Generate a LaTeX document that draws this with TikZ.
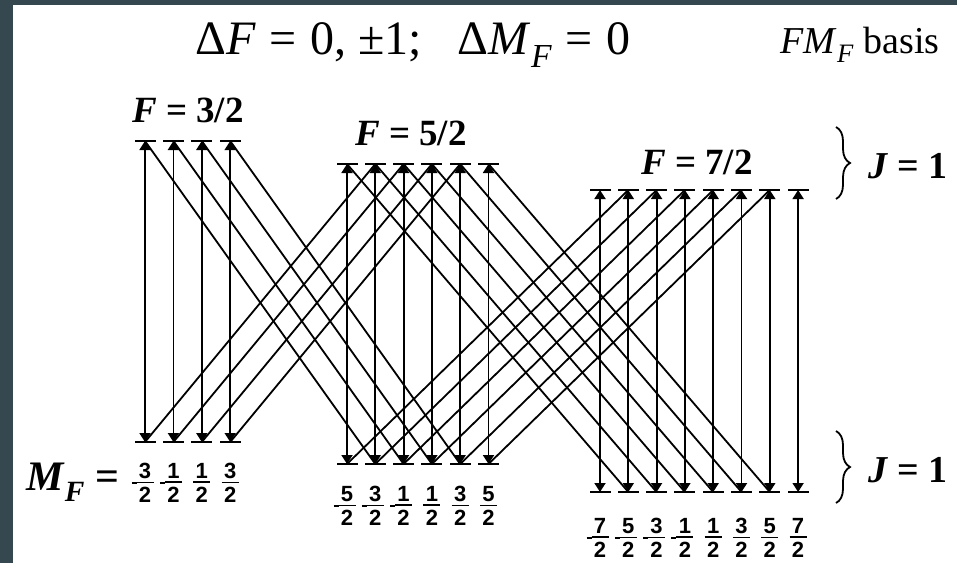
\documentclass[tikz,border=0pt]{standalone}
\usepackage{amsmath}
\usepackage{xcolor}
\usepackage{fontspec}
\setmainfont{Liberation Serif}
\setsansfont{Liberation Sans}
\usepackage{tikz}
\usetikzlibrary{arrows.meta, decorations.pathreplacing}

\definecolor{slate}{RGB}{53,71,79}

% M_F values under a sublevel
\newcommand{\mfr}[1]{\vbox{\sffamily\bfseries\hbox to 17pt{\hss#1\hss}\kern3pt\hrule height1.5pt\kern4.5pt\hbox to 17pt{\hss2\hss}}}
\newcommand{\pfr}[1]{$\vcenter{\mfr{#1}}$}
\newcommand{\nfr}[1]{\llap{$\vcenter{\hbox{\rule{5pt}{1.5pt}}}$}$\vcenter{\mfr{#1}}$}

\begin{document}
\begin{tikzpicture}[x=1pt, y=-1pt]
        % Define styles
        \tikzstyle{lev} = [rectangle, fill=black, minimum width=21pt, minimum height=2.5pt, inner sep=0pt]
        \tikzstyle{line} = [line width=1.8pt]
        \tikzstyle{arrow} = [line width=1.8pt, <->, >={Triangle[width=11pt,length=9pt]}]
        \tikzstyle{flabel} = [font=\fontsize{37}{40}\selectfont\bfseries]
        \tikzstyle{mlabel} = [font=\fontsize{22}{22}\selectfont, inner sep=0pt]
        \tikzstyle{brace} = [line width=1.8pt, decorate, decoration={brace, amplitude=14pt, aspect=0.5}]

        % Frame
        \useasboundingbox (0,0) rectangle (957,563);
        \fill[slate] (0,0) rectangle (957,563);
        \fill[white] (13,5) rectangle (957,563);

        % Sublevels: a = F 3/2, b = F 5/2, c = F 7/2 (u upper, l lower)
        \foreach \k in {0,...,3} {
            \node[lev] (ua\k) at (145+28.4*\k, 141) {};
            \node[lev] (la\k) at (145+28.4*\k, 442) {};
        }
        \foreach \k in {0,...,5} {
            \node[lev] (ub\k) at (347+28.3*\k, 164) {};
            \node[lev] (lb\k) at (347+28.3*\k, 464) {};
        }
        \foreach \k in {0,...,7} {
            \node[lev] (uc\k) at (600+28.3*\k, 190) {};
            \node[lev] (lc\k) at (600+28.3*\k, 492) {};
        }

        % Delta F = 0
        \foreach \k in {0,...,3} \draw [arrow] (ua\k.center) -- (la\k.center);
        \foreach \k in {0,...,5} \draw [arrow] (ub\k.center) -- (lb\k.center);
        \foreach \k in {0,...,7} \draw [arrow] (uc\k.center) -- (lc\k.center);

        % Delta F = +-1
        \foreach \k in {0,...,3} {
            \pgfmathtruncatemacro{\j}{\k+1}
            \draw [line] (ua\k.center) -- (lb\j.center);
            \draw [line] (la\k.center) -- (ub\j.center);
        }
        \foreach \k in {0,...,5} {
            \pgfmathtruncatemacro{\j}{\k+1}
            \draw [line] (ub\k.center) -- (lc\j.center);
            \draw [line] (lb\k.center) -- (uc\j.center);
        }

        % Labels
        \node (rule) at (413,45) [font=\fontsize{48}{52}\selectfont] {Δ\textit{F}\;=\;0, ±1;\enspace\ Δ\textit{M}\textsubscript{\textit{F}}\;=\;0};
        \node (basis) at (860,45) [font=\fontsize{38}{44}\selectfont] {\textit{FM}\textsubscript{\textit{F}} basis};
        \node (fa) at (188,110) [flabel] {\textit{F} = 3/2};
        \node (fb) at (411,133) [flabel] {\textit{F} = 5/2};
        \node (fc) at (697,162) [flabel] {\textit{F} = 7/2};
        \node (mf) at (73,482) [flabel, font=\fontsize{42}{44}\selectfont\bfseries] {\textit{M}\textsubscript{\textit{F}} =};

        \node (ma0) at (ua0 |- 0,483) [mlabel] {\nfr{3}};
        \node (ma1) at (ua1 |- 0,483) [mlabel] {\nfr{1}};
        \node (ma2) at (ua2 |- 0,483) [mlabel] {\pfr{1}};
        \node (ma3) at (ua3 |- 0,483) [mlabel] {\pfr{3}};

        \node (mb0) at (ub0 |- 0,506) [mlabel] {\nfr{5}};
        \node (mb1) at (ub1 |- 0,506) [mlabel] {\nfr{3}};
        \node (mb2) at (ub2 |- 0,506) [mlabel] {\nfr{1}};
        \node (mb3) at (ub3 |- 0,506) [mlabel] {\pfr{1}};
        \node (mb4) at (ub4 |- 0,506) [mlabel] {\pfr{3}};
        \node (mb5) at (ub5 |- 0,506) [mlabel] {\pfr{5}};

        \node (mc0) at (uc0 |- 0,538) [mlabel] {\nfr{7}};
        \node (mc1) at (uc1 |- 0,538) [mlabel] {\nfr{5}};
        \node (mc2) at (uc2 |- 0,538) [mlabel] {\nfr{3}};
        \node (mc3) at (uc3 |- 0,538) [mlabel] {\nfr{1}};
        \node (mc4) at (uc4 |- 0,538) [mlabel] {\pfr{1}};
        \node (mc5) at (uc5 |- 0,538) [mlabel] {\pfr{3}};
        \node (mc6) at (uc6 |- 0,538) [mlabel] {\pfr{5}};
        \node (mc7) at (uc7 |- 0,538) [mlabel] {\pfr{7}};

        % J manifolds
        \coordinate (bu1) at (836,127);
        \coordinate (bu2) at (836,199);
        \coordinate (bl1) at (836,431);
        \coordinate (bl2) at (836,503);
        \draw [brace] (bu1) -- (bu2);
        \draw [brace] (bl1) -- (bl2);
        \node (ju) at (908,166) [flabel, font=\fontsize{38}{40}\selectfont\bfseries] {\textit{J} = 1};
        \node (jl) at (908,470) [flabel, font=\fontsize{38}{40}\selectfont\bfseries] {\textit{J} = 1};
    \end{tikzpicture}
\end{document}
